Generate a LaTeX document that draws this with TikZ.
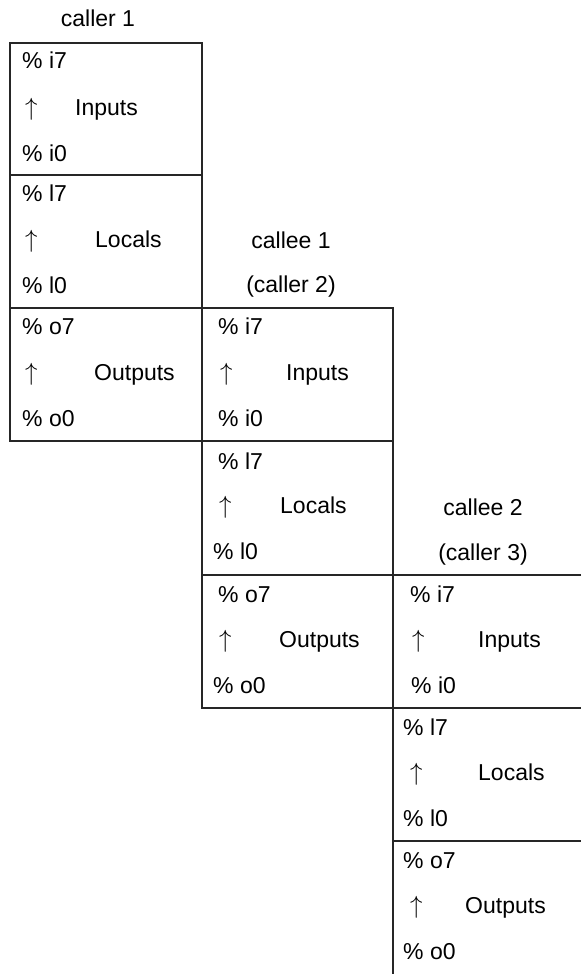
\documentclass[tikz,border=0pt]{standalone}
\usepackage{fontspec}
\setmainfont{Liberation Sans}
\begin{document}
\begin{tikzpicture}[x=1pt,y=-1pt,
  frame/.style={line width=1.3pt,draw=black!85},
  txt/.style={anchor=base west,inner sep=0pt,font=\fontsize{23}{27}\selectfont},
  arr/.style={anchor=base west,inner sep=0pt,font=\fontsize{23}{27}\selectfont},
  hdr/.style={anchor=base,inner sep=0pt,font=\fontsize{23}{27}\selectfont}]
\useasboundingbox (0,0) rectangle (581,974);
% frames
\draw[frame] (10,43) rectangle (202,441);
\draw[frame] (10,175) -- (202,175);
\draw[frame] (10,308) -- (202,308);
\draw[frame] (202,308) -- (393,308) -- (393,708) -- (202,708) -- cycle;
\draw[frame] (202,441) -- (393,441);
\draw[frame] (202,575) -- (393,575);
\draw[frame] (581,575) -- (393,575) -- (393,974);
\draw[frame] (393,708) -- (581,708);
\draw[frame] (393,841) -- (581,841);
% headers
\node[hdr] (h1) at (98,27) {caller 1};
\node[hdr] (h2a) at (291,248) {callee 1};
\node[hdr] (h2b) at (291,292) {(caller 2)};
\node[hdr] (h3a) at (483,515) {callee 2};
\node[hdr] (h3b) at (483,560) {(caller 3)};
% column 1
\node[txt] (a1) at (22,69) {\% i7};
\node[arr] (a2) at (25,115) {$\uparrow$};
\node[txt] (a3) at (75,115) {Inputs};
\node[txt] (a4) at (22,161) {\% i0};
\node[txt] (a5) at (22,201) {\% l7};
\node[arr] (a6) at (25,247) {$\uparrow$};
\node[txt] (a7) at (95,247) {Locals};
\node[txt] (a8) at (22,293) {\% l0};
\node[txt] (a9) at (22,334) {\% o7};
\node[arr] (a10) at (25,380) {$\uparrow$};
\node[txt] (a11) at (94,380) {Outputs};
\node[txt] (a12) at (22,426) {\% o0};
% column 2
\node[txt] (b1) at (218,334) {\% i7};
\node[arr] (b2) at (220,380) {$\uparrow$};
\node[txt] (b3) at (286,380) {Inputs};
\node[txt] (b4) at (218,426) {\% i0};
\node[txt] (b5) at (218,469) {\% l7};
\node[arr] (b6) at (219,513) {$\uparrow$};
\node[txt] (b7) at (280,513) {Locals};
\node[txt] (b8) at (213,559) {\% l0};
\node[txt] (b9) at (218,602) {\% o7};
\node[arr] (b10) at (219,647) {$\uparrow$};
\node[txt] (b11) at (279,647) {Outputs};
\node[txt] (b12) at (213,693) {\% o0};
% column 3
\node[txt] (c1) at (410,602) {\% i7};
\node[arr] (c2) at (412,647) {$\uparrow$};
\node[txt] (c3) at (478,647) {Inputs};
\node[txt] (c4) at (411,693) {\% i0};
\node[txt] (c5) at (403,735) {\% l7};
\node[arr] (c6) at (410,780) {$\uparrow$};
\node[txt] (c7) at (478,780) {Locals};
\node[txt] (c8) at (403,826) {\% l0};
\node[txt] (c9) at (403,868) {\% o7};
\node[arr] (c10) at (410,913) {$\uparrow$};
\node[txt] (c11) at (465,913) {Outputs};
\node[txt] (c12) at (403,959) {\% o0};
\end{tikzpicture}
\end{document}
